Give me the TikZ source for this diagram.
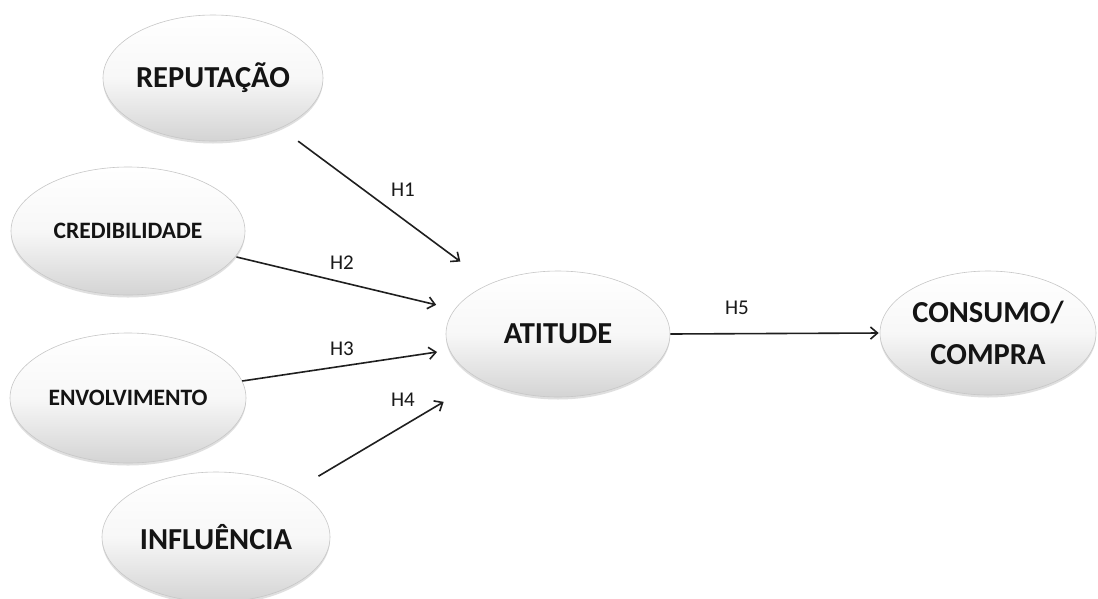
\documentclass[tikz,border=0pt]{standalone}
\usepackage{fontspec}
\setmainfont{Carlito}
\usetikzlibrary{shapes.geometric,arrows.meta,shadows}
\tikzset{
  oval/.style={ellipse, inner sep=0pt, draw=black!22, line width=0.6pt,
    top color=white, bottom color=black!17, middle color=black!3,
    drop shadow={opacity=0.25, shadow xshift=0pt, shadow yshift=-2.5pt},
    font=\bfseries\fontsize{30.5}{42}\selectfont, align=center, text=black!92},
  small/.style={font=\bfseries\fontsize{23.5}{28}\selectfont},
  arr/.style={line width=1.6pt, draw=black!88,
    -{Straight Barb[length=7pt,width=12pt,line width=1.6pt]}},
  hlab/.style={font=\fontsize{21}{25}\selectfont, text=black!90, inner sep=0pt}
}
\begin{document}
\begin{tikzpicture}[x=1pt,y=-1pt]
\useasboundingbox[fill=white] (0,0) rectangle (1098,598);
\node[oval, minimum width=220, minimum height=126] (rep) at (213,78) {REPUTAÇÃO};
\node[oval, small, minimum width=234, minimum height=128] (cred) at (128,231) {CREDIBILIDADE};
\node[oval, small, minimum width=236, minimum height=130] (env) at (128,398) {ENVOLVIMENTO};
\node[oval, minimum width=228, minimum height=130] (inf) at (216,537) {INFLUÊNCIA};
\node[oval, minimum width=224, minimum height=126] (atit) at (558,334) {ATITUDE};
\node[oval, minimum width=216, minimum height=124] (cons) at (988,333) {CONSUMO/\\COMPRA};

\draw[arr, shorten <=22pt, shorten >=37pt] (rep) -- (atit);
\draw[arr, shorten <=1pt, shorten >=19pt] (cred) -- (atit);
\draw[arr, shorten <=0pt, shorten >=12.5pt] (env) -- (atit);
\draw[arr, shorten <=27pt, shorten >=43pt] (inf) -- (atit);
\draw[arr, shorten >=1pt] (atit.east) -- (cons.west);

\node[hlab] (h1) at (403,190) {H1};
\node[hlab] (h2) at (342,263) {H2};
\node[hlab] (h3) at (342,349) {H3};
\node[hlab] (h4) at (403,400) {H4};
\node[hlab] (h5) at (737,308) {H5};
\end{tikzpicture}
\end{document}
